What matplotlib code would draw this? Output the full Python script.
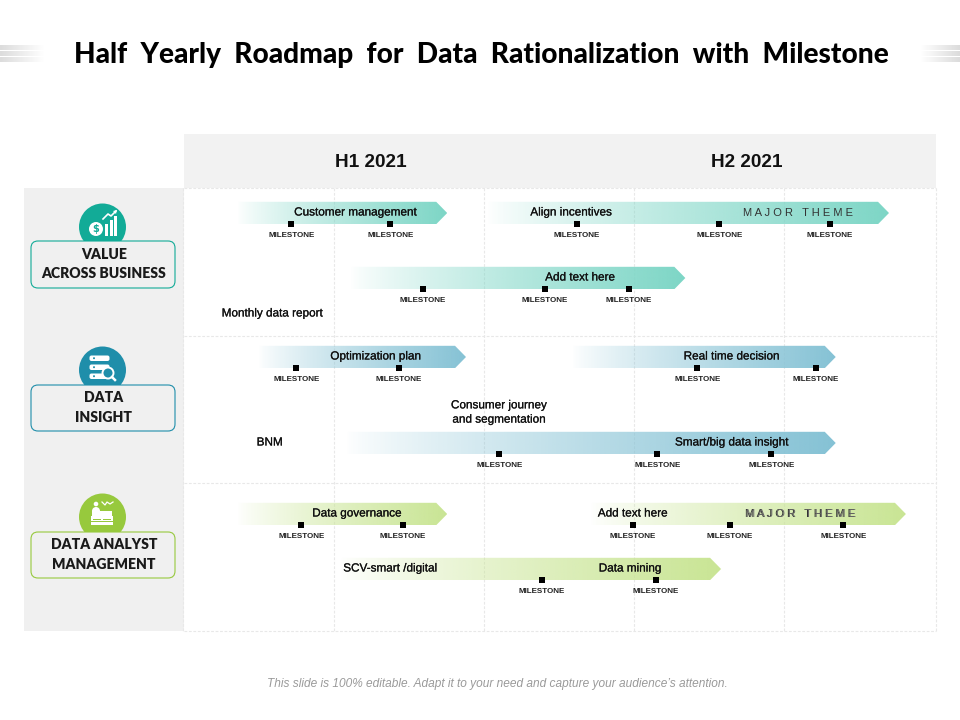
#!/usr/bin/env python3
import numpy as np
import matplotlib
matplotlib.use("Agg")
import matplotlib.pyplot as plt
import matplotlib.patheffects as pe
from matplotlib.colors import to_rgb
from matplotlib.patches import Circle, FancyBboxPatch, Polygon, Rectangle, Wedge

TITLE = "Half  Yearly  Roadmap  for  Data  Rationalization  with  Milestone"
FOOTER = "This slide is 100% editable. Adapt it to your need and capture your audience\u2019s attention."
PERIODS = ["H1 2021", "H2 2021"]
PERIOD_POS = [2.98, 8.98]
GROUPS = ["VALUE\nACROSS BUSINESS", "DATA\nINSIGHT", "DATA ANALYST\nMANAGEMENT"]
GROUP_COLORS = ["#12ab97", "#1f8eaa", "#97c93d"]

# timeline in months from start of the year, lanes top to bottom
bar_start = [0.85, 4.83, 2.65, 1.18, 6.19, 2.57, 0.85, 6.48, 2.49]
bar_end = [4.20, 11.25, 8.00, 4.50, 10.40, 10.40, 4.20, 11.52, 8.57]
bar_lane = [0, 0, 1, 2, 2, 3, 4, 4, 5]
bar_group = [0, 0, 0, 1, 1, 1, 2, 2, 2]
bar_label = ["Customer management", "Align incentives", "Add text here", "Optimization plan",
             "Real time decision", "Smart/big data insight", "Data governance", "Add text here", "Data mining"]
bar_label_pos = [2.74, 6.18, 6.32, 3.06, 8.74, 8.74, 2.76, 7.16, 7.12]
milestones = [[1.71, 3.29], [6.27, 8.54, 10.31], [3.81, 5.76, 7.10], [1.79, 3.43], [8.19, 10.08],
              [5.03, 7.55, 9.37], [1.87, 3.49], [7.16, 8.71, 10.52], [5.71, 7.53]]
theme_pos = [9.80, 9.83]
theme_lane = [0, 4]
note_text = ["Monthly data report", "BNM", "Consumer journey\nand segmentation", "SCV-smart /digital"]
note_pos = [1.41, 1.37, 5.03, 3.29]
note_y = [125, 254, 224, 380]

BAR_TINT = ["#7dd6c6", "#85c2d5", "#c9e594"]
lane_center = [25, 90, 169, 255, 326, 381]   # px below grid top
GRID_M = [-0.01, 2.39, 4.79, 7.18, 9.58, 12]
GRID_Y = [0, 147.5, 295.5, 443]

fig = plt.figure(figsize=(9.6, 7.2), dpi=100)
bg = fig.add_axes([0, 0, 1, 1])
bg.set_xlim(0, 960)
bg.set_ylim(720, 0)
bg.axis("off")

SANS = "Liberation Sans"
HEAD = "Lato"
firm = [pe.withStroke(linewidth=0.15, foreground="#111111")]

bg.text(481, 55.5, TITLE, ha="center", va="center", fontsize=20.2, fontweight="black", family=HEAD, color="#000000")
bg.text(497, 684, FOOTER, ha="center", va="center", fontsize=8.6, style="italic", family=SANS, color="#9a9a9a")

# grey stripes beside the title
for y0, h in [(46, 4.5), (52, 4.5), (57.5, 4.5)]:
    for x0, x1, flip in [(0, 45, False), (920, 960, True)]:
        ramp = np.linspace(0.86, 1.0, 64)[None, :]
        if flip:
            ramp = ramp[:, ::-1]
        bg.imshow(ramp, extent=(x0, x1, y0 + h, y0), cmap="gray", vmin=0, vmax=1, aspect="auto", zorder=1)
bg.set_xlim(0, 960)
bg.set_ylim(720, 0)

bg.add_patch(Rectangle((184, 134), 752, 54, fc="#f2f2f2", ec="none"))
bg.add_patch(Rectangle((24, 188), 160, 443, fc="#f0f0f0", ec="none"))

gantt = fig.add_axes([184 / 960, 1 - 631 / 720, 752 / 960, 443 / 720])
gantt.patch.set_alpha(0)
gantt.set_xlim(0, 12)
gantt.set_ylim(443, 0)
gantt.axis("off")

for m in GRID_M:
    gantt.plot([m, m], [0, 443], color="#e8e8e8", lw=0.8, ls=(0, (2.5, 1.5)), clip_on=False, zorder=1)
for y in GRID_Y:
    gantt.plot([0, 12], [y, y], color="#e8e8e8", lw=0.8, ls=(0, (2.5, 1.5)), clip_on=False, zorder=1)

for name, x in zip(PERIODS, PERIOD_POS):
    gantt.text(x, -25.5, name, ha="center", va="center", fontsize=13.7, fontweight="bold", family=SANS, color="#111111")

tip = 11 / 62.67
half = 11.2
for i in range(len(bar_start)):
    x0, x1 = bar_start[i], bar_end[i]
    yc = lane_center[bar_lane[i]]
    rgb = to_rgb(BAR_TINT[bar_group[i]])
    img = np.ones((1, 256, 4))
    img[..., :3] = rgb
    img[..., 3] = np.linspace(0, 1, 256) ** 0.8
    im = gantt.imshow(img, extent=(x0, x1, yc + half, yc - half), aspect="auto", zorder=2)
    shape = Polygon([(x0, yc - half), (x1 - tip, yc - half), (x1, yc), (x1 - tip, yc + half), (x0, yc + half)],
                    closed=True, fc="none", ec="none", transform=gantt.transData)
    gantt.add_patch(shape)
    im.set_clip_path(shape)
    gantt.text(bar_label_pos[i], yc - 0.5, bar_label[i], ha="center", va="center", fontsize=8.45,
               family=SANS, color="#111111", zorder=4, path_effects=firm)
    gantt.scatter(milestones[i], [yc + half - 0.5] * len(milestones[i]), marker="s", s=16, color="#000000",
                  linewidths=0, zorder=4)
    for m in milestones[i]:
        gantt.text(m, yc + half + 11.5, "MILESTONE", ha="center", va="center", fontsize=5.75, fontweight="bold",
                   family=SANS, color="#222222", zorder=4)

for x, lane in zip(theme_pos, theme_lane):
    gantt.text(x, lane_center[lane], "M A J O R   T H E M E", ha="center", va="center", fontsize=8.0,
               family=SANS, color="#333333", zorder=4)
# the lower one is doubled in the slide
gantt.text(theme_pos[1] + 0.02, lane_center[theme_lane[1]], "M A J O R   T H E M E", ha="center", va="center",
           fontsize=8.0, family=SANS, color="#666666", zorder=4)

for t, x, y in zip(note_text, note_pos, note_y):
    gantt.text(x, y + 0.5, t, ha="center", va="center", fontsize=8.45, family=SANS, color="#111111",
               linespacing=1.25, zorder=4, path_effects=firm)
gantt.set_xlim(0, 12)
gantt.set_ylim(443, 0)

# left column: icon badge + rounded label box
circle_y = [227, 370, 517]
box_y = [241, 385, 532]
box_h = [47, 46, 46]
for i, name in enumerate(GROUPS):
    c = GROUP_COLORS[i]
    bg.add_patch(Circle((102.5, circle_y[i]), 23.5, fc=c, ec="none", zorder=3))
    bg.add_patch(FancyBboxPatch((35, box_y[i] + 4), 136, box_h[i] - 8, boxstyle="round,pad=4,rounding_size=7",
                                fc="#f0f0f0", ec=c, lw=0.8, zorder=4))
    bg.text(104, box_y[i] + box_h[i] / 2 - 0.5, name, ha="center", va="center", fontsize=10.1, fontweight="heavy",
            family=HEAD, color="#1a1a1a", linespacing=1.55, zorder=5)


def white_rect(x, y, w, h, fill="#ffffff"):
    bg.add_patch(Rectangle((x, y), w, h, fc=fill, ec="none", zorder=3.5))


# icon 1: coin with growth bars
bg.add_patch(Circle((96, 229), 7, fc="#ffffff", ec="none", zorder=3.5))
bg.text(96, 229, "$", ha="center", va="center", fontsize=7, fontweight="bold", color=GROUP_COLORS[0], zorder=3.6)
for x, y in [(105, 224), (110, 220), (114, 216)]:
    white_rect(x, y, 2.5, 236 - y)
bg.plot([103, 108, 111, 116], [219, 214, 216, 211], color="#ffffff", lw=1.2, zorder=3.5)
bg.add_patch(Polygon([(113, 211), (117, 210), (116, 214)], fc="#ffffff", ec="none", zorder=3.5))

# icon 2: server rows and magnifier
for y in [356, 365, 374]:
    bg.add_patch(FancyBboxPatch((90, y), 19, 4.5, boxstyle="round,pad=0.5,rounding_size=2", fc="#ffffff",
                                ec="none", zorder=3.5))
    bg.add_patch(Circle((94, y + 2.2), 1, fc=GROUP_COLORS[1], ec="none", zorder=3.6))
bg.add_patch(Circle((108, 373), 5.5, fc=GROUP_COLORS[1], ec="#ffffff", lw=1.4, zorder=3.7))
bg.plot([112, 115], [377, 380], color="#ffffff", lw=1.8, zorder=3.7)

# icon 3: person at a register
bg.add_patch(Circle((96, 504), 2.3, fc="#ffffff", ec="none", zorder=3.5))
bg.add_patch(Wedge((96, 511), 4, 180, 360, fc="#ffffff", ec="none", zorder=3.5))
white_rect(92, 511, 8, 5)
white_rect(100, 511, 12, 6)
white_rect(91, 516, 22, 9)
white_rect(93, 519, 8, 1, GROUP_COLORS[2])
white_rect(103, 519, 8, 1, GROUP_COLORS[2])
white_rect(91, 521, 22, 0.8, GROUP_COLORS[2])
bg.plot([102, 105, 107, 110, 113], [502, 505, 502, 504, 502], color="#ffffff", lw=0.9, zorder=3.5)

fig.savefig("out.png", dpi=100)
